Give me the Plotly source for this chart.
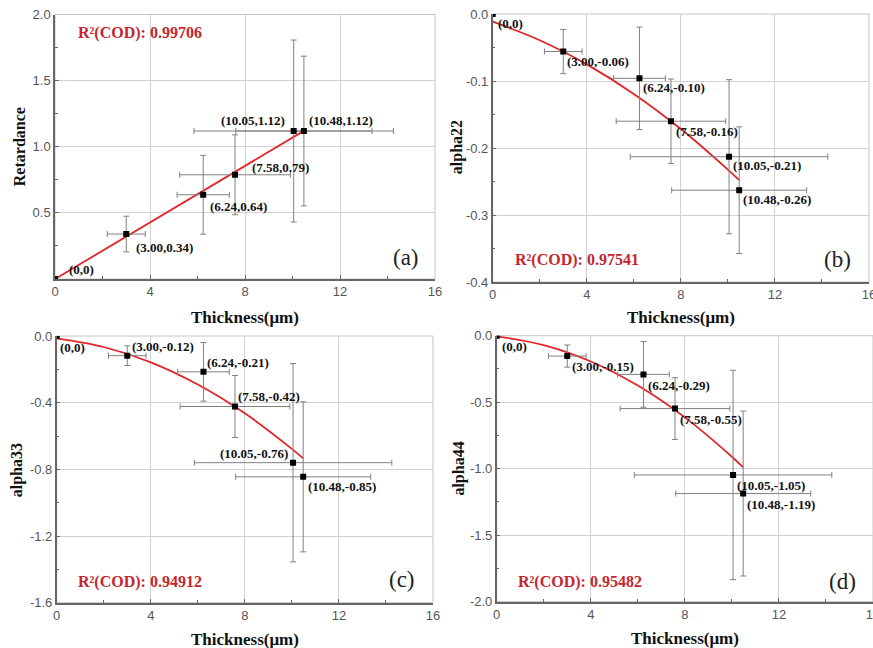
import plotly.graph_objects as go

# ---------------- data ----------------
thickness = [0, 3.00, 6.24, 7.58, 10.05, 10.48]
thickness_err = [None, 0.80, 1.10, 2.33, 4.20, 2.87]

retardance = [0, 0.340, 0.637, 0.788, 1.119, 1.119]
retardance_err = [None, 0.135, 0.298, 0.302, 0.688, 0.566]
retardance_labels = ["(0,0)", "(3.00,0.34)", "(6.24,0.64)", "(7.58,0.79)", "(10.05,1.12)", "(10.48,1.12)"]

alpha22 = [0, -0.056, -0.096, -0.160, -0.213, -0.263]
alpha22_err = [None, 0.033, 0.0765, 0.063, 0.115, 0.0945]
alpha22_labels = ["(0,0)", "(3.00,-0.06)", "(6.24,-0.10)", "(7.58,-0.16)", "(10.05,-0.21)", "(10.48,-0.26)"]

alpha33 = [0, -0.118, -0.215, -0.423, -0.760, -0.845]
alpha33_err = [None, 0.059, 0.176, 0.186, 0.595, 0.450]
alpha33_labels = ["(0,0)", "(3.00,-0.12)", "(6.24,-0.21)", "(7.58,-0.42)", "(10.05,-0.76)", "(10.48,-0.85)"]

alpha44 = [0, -0.153, -0.291, -0.548, -1.047, -1.187]
alpha44_err = [None, 0.083, 0.247, 0.232, 0.787, 0.620]
alpha44_labels = ["(0,0)", "(3.00,-0.15)", "(6.24,-0.29)", "(7.58,-0.55)", "(10.05,-1.05)", "(10.48,-1.19)"]

# fitted curves
fit_x_a = [0, 10.48]
fit_y_a = [0, 1.12]
fit_x = [0, 2, 4, 6, 8, 10, 10.48]
fit_y_b = [-0.0115, -0.0392, -0.0752, -0.1193, -0.1717, -0.2323, -0.248]
fit_y_c = [-0.014, -0.066, -0.158, -0.291, -0.464, -0.677, -0.734]
fit_y_d = [-0.005, -0.071, -0.194, -0.375, -0.614, -0.910, -0.990]

r2_texts = ["R²(COD): 0.99706", "R²(COD): 0.97541", "R²(COD): 0.94912", "R²(COD): 0.95482"]
panel_letters = ["(a)", "(b)", "(c)", "(d)"]
y_titles = ["Retardance", "alpha22", "alpha33", "alpha44"]

x_ticks = [0, 4, 8, 12, 16]
x_minor = [2, 6, 10, 14]
y_ticks_a = [0.5, 1.0, 1.5, 2.0]
y_ticks_b = [0.0, -0.1, -0.2, -0.3, -0.4]
y_ticks_c = [0.0, -0.4, -0.8, -1.2, -1.6]
y_ticks_d = [0.0, -0.5, -1.0, -1.5, -2.0]
y_minor_a = [0.25, 0.75, 1.25, 1.75]
y_minor_b = [-0.05, -0.15, -0.25, -0.35]
y_minor_c = [-0.2, -0.6, -1.0, -1.4]
y_minor_d = [-0.25, -0.75, -1.25, -1.75]

# ---------------- layout helpers ----------------
W, H = 873, 648
SERIF = "Liberation Serif, Times New Roman, serif"
SANS = "Liberation Sans, Arial, sans-serif"
AXIS_COL = "#666666"
GRID_COL = "#d2d2d2"
ERR_COL = "#808080"
RED = "#e0262a"
R2_RED = "#c4262e"

# plot areas in pixels: (left, right, top, bottom)
boxes = [(55, 435, 14.5, 279), (492.7, 869, 14, 282),
         (56.7, 433, 336, 602.7), (496.7, 873, 335.7, 601.7)]

# label placement per point: (xanchor, xshift, yshift)
place_a = [("left", 12, 10), ("left", 8, -13), ("left", 5, -12), ("left", 15, 7), ("right", -7, 11), ("left", 3, 11)]
place_b = [("left", 3, -10), ("left", 2, -10), ("left", 2, -9.5), ("left", 3, -10), ("left", 2, -9), ("left", 2, -9)]
place_c = [("left", 1, -11), ("left", 3, 9), ("left", 2, 9), ("left", 1, 10), ("right", -3, 9), ("left", 3, -10)]
place_d = [("left", 3, -11), ("left", 3, -10), ("left", 3, -11), ("left", 3, -11), ("left", 2, -11), ("left", 2, -11)]

r2_pos = [(76, 33.3), (513.3, 260), (76, 581.7), (516, 581.7)]
letter_pos = [(420.7, 257.7), (852.7, 259.3), (416.7, 579.3), (857.7, 581)]
ytitle_pos = [(19.5, 146.7), (457.7, 147.5), (17.3, 470), (459.3, 468.3)]
xtitle_pos = [(245, 317), (681, 317), (244.7, 639), (684.7, 638)]

panels = [
    (retardance, retardance_err, retardance_labels, fit_x_a, fit_y_a, [0, 2], y_ticks_a, y_minor_a, place_a),
    (alpha22, alpha22_err, alpha22_labels, fit_x, fit_y_b, [-0.4, 0], y_ticks_b, y_minor_b, place_b),
    (alpha33, alpha33_err, alpha33_labels, fit_x, fit_y_c, [-1.6, 0], y_ticks_c, y_minor_c, place_c),
    (alpha44, alpha44_err, alpha44_labels, fit_x, fit_y_d, [-2.0, 0], y_ticks_d, y_minor_d, place_d),
]

fig = go.Figure()
annotations = []
shapes = []
layout = {}

for i, (yv, yerr, labels, fx, fy, yrange, yt, ym, place) in enumerate(panels):
    n = "" if i == 0 else str(i + 1)
    xa, ya = "x" + n, "y" + n
    l, r, t, b = boxes[i]

    fig.add_trace(go.Scatter(
        x=fx, y=fy, mode="lines", line=dict(color=RED, width=1.8, shape="spline"),
        xaxis=xa, yaxis=ya, showlegend=False, hoverinfo="skip"))
    fig.add_trace(go.Scatter(
        x=thickness, y=yv, mode="markers",
        marker=dict(symbol="square", size=6, color="#000000"),
        error_x=dict(type="data", array=thickness_err, color=ERR_COL, thickness=1, width=3),
        error_y=dict(type="data", array=yerr, color=ERR_COL, thickness=1, width=3),
        xaxis=xa, yaxis=ya, showlegend=False))

    common = dict(
        ticks="inside", ticklen=4, tickcolor=AXIS_COL, tickwidth=1,
        showline=True, linecolor=AXIS_COL, linewidth=1.5,
        showgrid=True, gridcolor=GRID_COL, gridwidth=1, zeroline=False,
        automargin=False, ticklabeloverflow="allow",
        tickfont=dict(family=SANS, size=13, color="#555555"))
    layout["xaxis" + n] = dict(
        domain=[l / W, r / W], range=[0, 16], anchor=ya,
        tickvals=x_ticks, ticktext=[str(v) for v in x_ticks],
        minor=dict(tickvals=x_minor, ticks="inside", ticklen=3, tickcolor=AXIS_COL, showgrid=False),
        **common)
    layout["yaxis" + n] = dict(
        domain=[1 - b / H, 1 - t / H], range=yrange, anchor=xa,
        tickvals=yt, ticktext=["%.1f" % v for v in yt],
        minor=dict(tickvals=ym, ticks="inside", ticklen=3, tickcolor=AXIS_COL, showgrid=False),
        **common)

    shapes.append(dict(type="rect", xref=xa + " domain", yref=ya + " domain",
                       x0=0, x1=1, y0=0, y1=1, line=dict(color="#c4c4c4", width=1), layer="below"))

    for xv, yvv, txt, (anc, dx, dy) in zip(thickness, yv, labels, place):
        annotations.append(dict(
            x=xv, y=yvv, xref=xa, yref=ya, text=txt, showarrow=False,
            xanchor=anc, yanchor="middle", xshift=dx, yshift=dy,
            font=dict(family=SERIF, size=13, color="#111111", weight="bold")))

    annotations.append(dict(
        x=r2_pos[i][0] / W, y=1 - r2_pos[i][1] / H, xref="paper", yref="paper",
        text=r2_texts[i], showarrow=False, xanchor="left", yanchor="middle",
        font=dict(family=SERIF, size=16, color=R2_RED, weight="bold")))
    annotations.append(dict(
        x=letter_pos[i][0] / W, y=1 - letter_pos[i][1] / H, xref="paper", yref="paper",
        text=panel_letters[i], showarrow=False, xanchor="right", yanchor="middle",
        font=dict(family=SERIF, size=23, color="#222222")))
    annotations.append(dict(
        x=ytitle_pos[i][0] / W, y=1 - ytitle_pos[i][1] / H, xref="paper", yref="paper",
        text=y_titles[i], showarrow=False, xanchor="center", yanchor="middle", textangle=-90,
        font=dict(family=SERIF, size=16, color="#111111", weight="bold")))
    annotations.append(dict(
        x=xtitle_pos[i][0] / W, y=1 - xtitle_pos[i][1] / H, xref="paper", yref="paper",
        text="Thickness(μm)", showarrow=False, xanchor="center", yanchor="middle",
        font=dict(family=SERIF, size=17, color="#111111", weight="bold")))

fig.update_layout(
    width=W, height=H, margin=dict(l=0, r=0, t=0, b=0, autoexpand=False),
    paper_bgcolor="white", plot_bgcolor="white",
    annotations=annotations, shapes=shapes, **layout)

fig.write_html("out.html", config={"displayModeBar": False},
               post_script="document.body.style.margin='0px';document.body.style.overflow='hidden';")
